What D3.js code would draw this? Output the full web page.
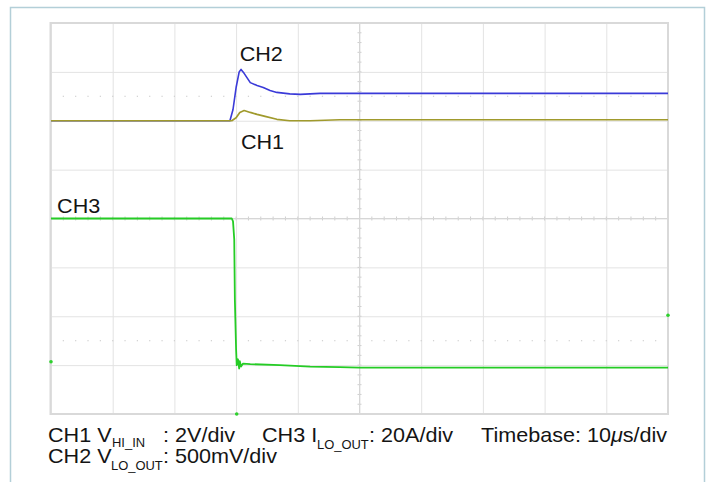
<!DOCTYPE html>
<html>
<head>
<meta charset="utf-8">
<script src="https://cdn.jsdelivr.net/npm/d3@7"></script>
<style>
  html, body { margin: 0; padding: 0; background: #fff; }
  svg { display: block; font-family: "Liberation Sans", Arial, Helvetica, sans-serif; }
</style>
</head>
<body>
<svg id="scope"></svg>
<script>
// time in us (10 us/div, 10 divs), level in screen divisions (-4..4, 0 = centre)
var ch2Time  = [0, 29.0, 29.5, 30.0, 30.5, 30.8, 31.3, 32.3, 33.4, 34.4, 35.5, 36.6, 38.7, 40.4, 43.6, 50, 100];
var ch2Level = [2.0, 2.0, 2.23, 2.68, 3.0, 3.05, 2.97, 2.78, 2.72, 2.68, 2.62, 2.58, 2.55, 2.54, 2.56, 2.56, 2.56];

var ch1Time  = [0, 29.3, 30.0, 30.6, 31.3, 32.3, 33.4, 34.7, 36.6, 38.7, 42.0, 46.8, 50, 100];
var ch1Level = [2.0, 2.0, 2.06, 2.17, 2.21, 2.17, 2.13, 2.09, 2.03, 2.0, 2.0, 2.02, 2.02, 2.02];

var ch3Time  = [0, 29.3, 29.5, 29.7, 29.8, 30.0, 30.1, 30.3, 30.5, 30.6, 30.8, 31.1, 32.3, 37.1, 42.0, 46.8, 50, 100];
var ch3Level = [0.0, 0.0, -0.06, -0.43, -1.66, -2.68, -3.0, -2.88, -3.07, -2.92, -3.03, -2.97, -2.98, -3.0, -3.03, -3.04, -3.05, -3.05];

// little marker dots on the screen edge: [time, level]
var markers = [[0, -2.93], [30.1, -4.0], [100, -1.98]];

// channel labels: [text, time, level]
var traceLabels = [["CH2", 30.5, 3.22], ["CH1", 30.7, 1.42], ["CH3", 0.9, 0.12]];

var timeTicks  = d3.range(0, 101, 10);
var levelTicks = d3.range(-4, 5, 1);

var width = 709, height = 482;
var plot = {left: 51, right: 668, top: 23, bottom: 414};

var svg = d3.select("#scope").attr("width", width).attr("height", height);

// outer frame
svg.append("rect")
   .attr("x", 10.5).attr("y", 7.5)
   .attr("width", 694).attr("height", 490)
   .attr("fill", "#fff")
   .attr("stroke", "#b3cfd8")
   .attr("stroke-width", 1.5);

var x = d3.scaleLinear().domain([0, 100]).range([plot.left, plot.right]);
var y = d3.scaleLinear().domain([-4, 4]).range([plot.bottom, plot.top]);

// grid
var gx = svg.append("g")
   .attr("transform", "translate(0," + plot.bottom + ")")
   .call(d3.axisBottom(x).tickValues(timeTicks).tickSize(-(plot.bottom - plot.top)).tickFormat(""));
var gy = svg.append("g")
   .attr("transform", "translate(" + plot.left + ",0)")
   .call(d3.axisLeft(y).tickValues(levelTicks).tickSize(-(plot.right - plot.left)).tickFormat(""));
[gx, gy].forEach(function(g)
{
    g.select(".domain").remove();
    g.selectAll(".tick line").attr("stroke", "#e3e3e3").attr("stroke-width", 1);
});

// centre cross minor ticks
var minorT = d3.range(2, 100, 2);
var minorL = d3.range(-3.8, 4, 0.2);
svg.append("g").selectAll("line")
   .data(minorT)
   .enter()
   .append("line")
   .attr("x1", function(d){ return x(d); })
   .attr("x2", function(d){ return x(d); })
   .attr("y1", y(0) - 2).attr("y2", y(0) + 2)
   .attr("stroke", "#cfcfcf");
svg.append("g").selectAll("line")
   .data(minorL)
   .enter()
   .append("line")
   .attr("y1", function(d){ return y(d); })
   .attr("y2", function(d){ return y(d); })
   .attr("x1", x(50) - 2).attr("x2", x(50) + 2)
   .attr("stroke", "#cfcfcf");
svg.append("line")
   .attr("x1", x(0)).attr("x2", x(100)).attr("y1", y(0)).attr("y2", y(0))
   .attr("stroke", "#d6d6d6");
svg.append("line")
   .attr("x1", x(50)).attr("x2", x(50)).attr("y1", y(4)).attr("y2", y(-4))
   .attr("stroke", "#d6d6d6");

// dotted rows at +/-2.5 div
[2.5, -2.5].forEach(function(lv)
{
    svg.append("g").selectAll("rect")
       .data(minorT)
       .enter()
       .append("rect")
       .attr("x", function(d){ return x(d) - 0.6; })
       .attr("y", y(lv) - 0.6)
       .attr("width", 1.2).attr("height", 1.2)
       .attr("fill", "#d0d0d0");
});

// plot border
svg.append("rect")
   .attr("x", plot.left - 0.5).attr("y", plot.top)
   .attr("width", plot.right - plot.left + 0.5).attr("height", plot.bottom - plot.top)
   .attr("fill", "none")
   .attr("stroke", "#d9d9d9")
   .attr("stroke-width", 2);

// traces
var line = d3.line()
   .x(function(d){ return x(d[0]); })
   .y(function(d){ return y(d[1]); });

var traces = [
    {t: ch2Time, v: ch2Level, color: "#3a3ad8", w: 1.6},
    {t: ch1Time, v: ch1Level, color: "#a09a2c", w: 1.7},
    {t: ch3Time, v: ch3Level, color: "#25cc25", w: 1.8}
];
traces.forEach(function(tr)
{
    svg.append("path")
       .datum(d3.zip(tr.t, tr.v))
       .attr("d", line)
       .attr("fill", "none")
       .attr("stroke", tr.color)
       .attr("stroke-width", tr.w)
       .attr("stroke-linejoin", "round");
});

svg.append("g").selectAll("circle")
   .data(markers)
   .enter()
   .append("circle")
   .attr("cx", function(d){ return x(d[0]); })
   .attr("cy", function(d){ return y(d[1]); })
   .attr("r", 1.8)
   .attr("fill", "#2ed12e");

// text helper, slightly widened like the original
var addText = function(px, py, str, size)
{
    return svg.append("text")
       .attr("transform", "translate(" + px + "," + py + ") scale(1.08,1)")
       .attr("font-size", size)
       .attr("fill", "#141414")
       .text(str);
};

traceLabels.forEach(function(l)
{
    addText(x(l[1]) + 0.5, y(l[2]), l[0], 20);
});

// legend lines
addText(48, 442, "CH1 V", 20);
addText(112, 447, "HI_IN", 12);
addText(163, 442, ": 2V/div", 20);
addText(262, 442, "CH3 I", 20);
addText(317, 449, "LO_OUT", 12);
addText(369, 442, ": 20A/div", 20);
var tb = addText(481, 442, "Timebase: 10", 20);
tb.append("tspan").attr("font-style", "italic").text("\u03bc");
tb.append("tspan").text("s/div");

addText(48, 463, "CH2 V", 20);
addText(111, 470, "LO_OUT", 12);
addText(163, 463, ": 500mV/div", 20);
</script>
</body>
</html>
